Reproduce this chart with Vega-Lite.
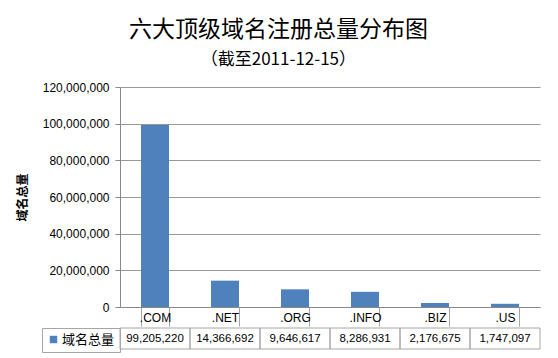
{
  "$schema": "https://vega.github.io/schema/vega-lite/v6.json",
  "padding": {"left": 16, "top": 19, "right": 12, "bottom": 4},
  "background": "white",
  "title": {
    "text": "六大顶级域名注册总量分布图",
    "subtitle": "（截至2011-12-15）",
    "anchor": "middle",
    "frame": "bounds",
    "font": "Noto Sans CJK SC",
    "fontSize": 23,
    "fontWeight": "normal",
    "color": "#000",
    "subtitleFont": "Noto Sans CJK SC",
    "subtitleFontSize": 17,
    "subtitleColor": "#000",
    "subtitlePadding": 10,
    "offset": 13
  },
  "datasets": {
    "d": [
      {"tld": ".COM", "count": 99205220, "series": "域名总量"},
      {"tld": ".NET", "count": 14366692, "series": "域名总量"},
      {"tld": ".ORG", "count": 9646617, "series": "域名总量"},
      {"tld": ".INFO", "count": 8286931, "series": "域名总量"},
      {"tld": ".BIZ", "count": 2176675, "series": "域名总量"},
      {"tld": ".US", "count": 1747097, "series": "域名总量"}
    ]
  },
  "spacing": 0,
  "resolve": {"scale": {"x": "independent", "color": "independent"}, "legend": {"color": "independent"}},
  "vconcat": [
    {
      "width": 420,
      "height": 220,
      "data": {"name": "d"},
      "mark": {"type": "bar", "color": "#4F81BD"},
      "encoding": {
        "x": {
          "field": "tld", "type": "nominal", "sort": null,
          "scale": {"paddingInner": 0.6, "paddingOuter": 0.3},
          "axis": {
            "title": null, "labelAngle": 0, "labelFont": "Liberation Sans", "labelFontSize": 12,
            "labelColor": "#000", "tickBand": "extent", "tickSize": 19, "tickColor": "#a6a6a6",
            "domainColor": "#888", "labelBaseline": "middle", "labelPadding": -9, "grid": false
          }
        },
        "y": {
          "field": "count", "type": "quantitative",
          "scale": {"domain": [0, 120000000]},
          "axis": {
            "title": "域名总量", "titleFont": "Noto Sans CJK SC", "titleFontWeight": "bold",
            "titleFontSize": 12, "titleColor": "#000", "titlePadding": 13,
            "values": [0, 20000000, 40000000, 60000000, 80000000, 100000000, 120000000],
            "format": ",d", "labelFont": "Liberation Sans", "labelFontSize": 12, "labelColor": "#000",
            "labelPadding": 6, "tickSize": 5, "tickColor": "#888", "domainColor": "#888",
            "grid": true, "gridColor": "#999"
          }
        }
      }
    },
    {
      "width": 420,
      "height": 21,
      "data": {"name": "d"},
      "layer": [
        {
          "mark": {"type": "rect", "fillOpacity": 0, "stroke": "#a6a6a6", "strokeWidth": 1},
          "encoding": {
            "x": {"field": "tld", "type": "nominal", "sort": null, "scale": {"paddingInner": 0, "paddingOuter": 0}, "axis": null}
          }
        },
        {
          "mark": {"type": "text", "font": "Liberation Sans", "fontSize": 11.5, "color": "#000"},
          "encoding": {
            "x": {"field": "tld", "type": "nominal", "sort": null, "axis": null},
            "text": {"field": "count", "type": "quantitative", "format": ",d"}
          }
        },
        {
          "mark": {"type": "square", "opacity": 0},
          "encoding": {
            "x": {"field": "tld", "type": "nominal", "sort": null, "axis": null},
            "color": {
              "field": "series", "type": "nominal", "scale": {"range": ["#4F81BD"]},
              "legend": {
                "title": null, "orient": "left", "offset": 0, "padding": 5, "strokeColor": "#a6a6a6",
                "symbolType": "square", "symbolSize": 55, "symbolOpacity": 1, "symbolStrokeWidth": 0,
                "labelFont": "Noto Sans CJK SC", "labelFontSize": 13, "labelColor": "#000", "labelOffset": 2
              }
            }
          }
        }
      ]
    }
  ],
  "config": {"view": {"stroke": null}}
}
